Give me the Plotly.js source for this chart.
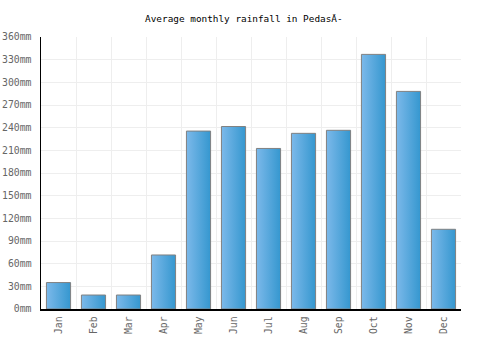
<!DOCTYPE html>
<html><head><meta charset="utf-8">
<script src="https://cdn.plot.ly/plotly-3.0.1.min.js"></script>
<style>html,body{margin:0;padding:0;background:#fff}#chart{width:500px;height:350px}</style>
</head><body><div id="chart"></div>
<script>
const months = ["Jan","Feb","Mar","Apr","May","Jun","Jul","Aug","Sep","Oct","Nov","Dec"];
const rainfall = [35, 18.5, 18.5, 71.5, 235.5, 241.5, 212.5, 232.5, 236.5, 337, 288, 105.5];
const tickVals = [0,30,60,90,120,150,180,210,240,270,300,330,360];
const tickText = tickVals.map(v => v + "mm");
const titleText = "Average monthly rainfall in Pedas\u00C3-";

const font = "DejaVu Sans Mono, monospace";
const trace = {
  type: "bar", x: months, y: rainfall,
  marker: {color: "#5aa8de", line: {color: "#808080", width: 1}},
  hoverinfo: "none"
};
const layout = {
  width: 500, height: 350,
  margin: {l: 41, r: 39, t: 37, b: 41},
  paper_bgcolor: "#fff", plot_bgcolor: "#fff",
  bargap: 0.31,
  showlegend: false,
  title: {text: titleText, font: {family: font, size: 9.4, color: "#000"}, xref: "paper", x: 0.483, xanchor: "center", y: 0.947, yanchor: "middle"},
  xaxis: {
    showgrid: true, gridcolor: "#eeeeee", gridwidth: 1,
    tickson: "boundaries", ticks: "", tickangle: -90,
    showline: true, linecolor: "#000", linewidth: 1.5,
    tickfont: {family: font, size: 9.8, color: "#666"},
    ticklabelstandoff: 2,
    fixedrange: true
  },
  yaxis: {
    range: [0, 360], tickvals: tickVals, ticktext: tickText,
    showgrid: true, gridcolor: "#eeeeee", gridwidth: 1,
    zeroline: false, ticks: "",
    showline: true, linecolor: "#000", linewidth: 1.5,
    tickfont: {family: font, size: 9.8, color: "#666"},
    ticklabelstandoff: 6,
    fixedrange: true
  }
};
Plotly.newPlot("chart", [trace], layout, {staticPlot: true, displayModeBar: false}).then(gd => {
  const svg = gd.querySelector("svg.main-svg");
  const ns = "http://www.w3.org/2000/svg";
  let defs = svg.querySelector("defs");
  if (!defs) { defs = document.createElementNS(ns, "defs"); svg.insertBefore(defs, svg.firstChild); }
  const lg = document.createElementNS(ns, "linearGradient");
  lg.setAttribute("id", "barGrad");
  lg.setAttribute("x1", "0"); lg.setAttribute("y1", "0");
  lg.setAttribute("x2", "1"); lg.setAttribute("y2", "0");
  [["0", "#7cb9ea"], ["1", "#3597cf"]].forEach(([o, c]) => {
    const s = document.createElementNS(ns, "stop");
    s.setAttribute("offset", o); s.setAttribute("stop-color", c);
    lg.appendChild(s);
  });
  defs.appendChild(lg);
  gd.querySelectorAll(".barlayer .point path").forEach(p => {
    p.style.fill = "url(#barGrad)";
  });
});
</script></body></html>
